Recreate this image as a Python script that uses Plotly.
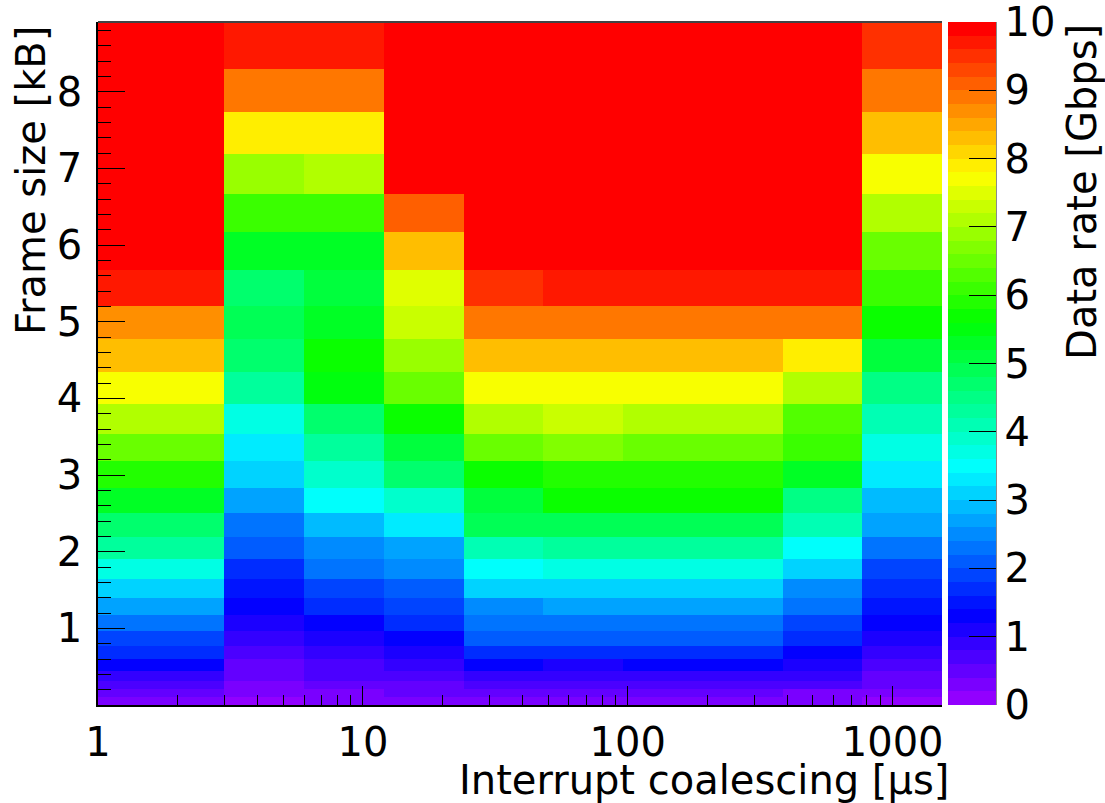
import math
import colorsys
import plotly.graph_objects as go

# ---------------- data ----------------
# bin edges of interrupt coalescing time [us] (log axis)
coalescing_edges_us = [1, 3, 6, 12, 24, 48, 96, 192, 384, 768, 1536]
# bin edges of frame size [kB], bottom -> top
frame_size_edges_kB = [0, 0.11, 0.21, 0.31, 0.45, 0.60, 0.77, 0.96, 1.17, 1.39,
                       1.64, 1.91, 2.19, 2.50, 2.83, 3.18, 3.54, 3.93, 4.34, 4.77,
                       5.21, 5.68, 6.17, 6.67, 7.19, 7.73, 8.30, 8.91]

# data rate [Gbps] per coalescing column, frame-size rows bottom -> top
rate_1_3us = [0.3, 0.5, 0.7, 0.9, 1.3, 1.7, 1.9, 2.3, 2.7, 3.1, 3.7, 4.3, 4.7, 5.3,
              5.9, 6.5, 7.1, 7.7, 8.3, 8.7, 9.7, 9.9, 9.9, 9.9, 9.9, 9.9, 9.9]
rate_3_6us = [0.1, 0.3, 0.3, 0.5, 0.5, 0.7, 0.9, 1.1, 1.3, 1.5, 1.7, 2.1, 2.3, 2.7,
              3.1, 3.3, 3.7, 4.3, 4.7, 4.9, 4.7, 5.3, 6.1, 6.9, 7.9, 8.9, 9.7]
rate_6_12us = [0.3, 0.3, 0.5, 0.7, 0.7, 0.9, 1.1, 1.3, 1.7, 1.9, 2.3, 2.5, 2.9, 3.5,
               3.9, 4.3, 4.7, 5.5, 5.7, 5.3, 5.1, 5.3, 6.1, 7.1, 7.9, 8.9, 9.7]
rate_12_24us = [0.3, 0.5, 0.5, 0.7, 0.9, 1.1, 1.3, 1.7, 1.9, 2.1, 2.5, 2.7, 3.3, 3.9,
                4.7, 5.1, 5.7, 6.5, 6.9, 7.3, 7.5, 8.3, 9.1, 9.9, 9.9, 9.9, 9.9]
rate_24_48us = [0.3, 0.5, 0.7, 0.9, 1.3, 1.7, 2.1, 2.3, 2.5, 3.1, 3.5, 4.1, 4.9, 5.1,
                5.7, 6.5, 7.1, 7.7, 8.3, 8.9, 9.5, 9.9, 9.9, 9.9, 9.9, 9.9, 9.9]
rate_48_96us = [0.3, 0.5, 0.7, 0.9, 1.1, 1.7, 2.1, 2.3, 2.7, 3.1, 3.7, 4.3, 4.9, 5.7,
                5.9, 6.7, 7.3, 7.7, 8.3, 8.9, 9.7, 9.9, 9.9, 9.9, 9.9, 9.9, 9.9]
rate_96_192us = [0.3, 0.5, 0.7, 0.9, 1.3, 1.7, 2.1, 2.3, 2.7, 3.1, 3.7, 4.3, 4.9, 5.7,
                 5.9, 6.5, 7.1, 7.7, 8.3, 8.9, 9.7, 9.9, 9.9, 9.9, 9.9, 9.9, 9.9]
rate_192_384us = [0.3, 0.5, 0.7, 0.9, 1.3, 1.7, 2.1, 2.3, 2.7, 3.1, 3.7, 4.3, 4.9, 5.7,
                  5.9, 6.5, 7.1, 7.7, 8.3, 8.9, 9.7, 9.9, 9.9, 9.9, 9.9, 9.9, 9.9]
rate_384_768us = [0.3, 0.3, 0.7, 0.9, 1.1, 1.3, 1.7, 1.9, 2.3, 2.5, 3.1, 3.5, 4.1, 4.5,
                  5.3, 6.1, 6.3, 7.1, 7.9, 8.9, 9.7, 9.9, 9.9, 9.9, 9.9, 9.9, 9.9]
rate_768_1536us = [0.1, 0.3, 0.5, 0.5, 0.7, 0.9, 1.1, 1.3, 1.5, 1.7, 1.9, 2.3, 2.7, 2.9,
                   3.3, 3.7, 4.1, 4.5, 5.1, 5.7, 6.1, 6.5, 7.1, 7.7, 8.3, 8.9, 9.5]

columns = [rate_1_3us, rate_3_6us, rate_6_12us, rate_12_24us, rate_24_48us,
           rate_48_96us, rate_96_192us, rate_192_384us, rate_384_768us, rate_768_1536us]
z = [[col[r] for col in columns] for r in range(len(frame_size_edges_kB) - 1)]

x_major = [1, 10, 100, 1000]
x_minor = [m * d for d in (1, 10, 100) for m in range(2, 10)]
y_major = [1, 2, 3, 4, 5, 6, 7, 8]
z_ticks = list(range(11))

# ---------------- ROOT "pretty" palette (violet -> red), 50 levels ----------------
n_levels = 50
palette = []
for i in range(n_levels):
    hue = 280.0 - (i + 1) * 280.0 / n_levels
    r, g, b = colorsys.hls_to_rgb(hue / 360.0, 0.5, 1.0)
    palette.append(f"rgb({round(r * 255)},{round(g * 255)},{round(b * 255)})")
colorscale = []
for i, c in enumerate(palette):
    colorscale.append([i / n_levels, c])
    colorscale.append([(i + 1) / n_levels, c])

FONT = "DejaVu Sans"
FS = 40

# plot area geometry (pixels)
L, R, T, B = 97.5, 163, 22, 98
W, H = 1105, 803
pw = W - L - R
ph = H - T - B


def px_to_paper_x(px):
    return (px - L) / pw


def px_to_paper_y(py):
    return (H - B - py) / ph


fig = go.Figure(go.Heatmap(
    x=coalescing_edges_us, y=frame_size_edges_kB, z=z,
    zmin=0, zmax=10, colorscale=colorscale,
    colorbar=dict(
        thickness=48, thicknessmode="pixels",
        len=1, lenmode="fraction",
        x=px_to_paper_x(948), xanchor="left", xpad=0,
        y=0.5, yanchor="middle", ypad=0,
        outlinewidth=0,
        tickvals=z_ticks, ticktext=[str(v) for v in z_ticks],
        ticks="inside", ticklen=27, tickwidth=1, tickcolor="black",
        ticklabeloverflow="allow",
        tickfont=dict(family=FONT, size=FS, color="black"),
    ),
    hoverongaps=False,
))

fig.update_layout(
    width=W, height=H,
    margin=dict(l=L, r=R, t=T, b=B),
    paper_bgcolor="white", plot_bgcolor="white",
    font=dict(family=FONT, size=FS, color="black"),
    xaxis=dict(
        type="log", range=[0, math.log10(coalescing_edges_us[-1])],
        tickvals=x_major, ticktext=[str(v) for v in x_major],
        ticks="inside", ticklen=19, tickwidth=1, tickcolor="black",
        showline=True, linecolor="black", linewidth=1.5,
        showgrid=False, zeroline=False,
        minor=dict(tickvals=x_minor, ticks="inside", ticklen=10, tickwidth=1,
                   tickcolor="black", showgrid=False),
        ticklabelstandoff=1,
        tickfont=dict(family=FONT, size=FS),
    ),
    yaxis=dict(
        range=[0, frame_size_edges_kB[-1]],
        tickvals=y_major,
        ticks="inside", ticklen=27, tickwidth=1, tickcolor="black",
        showline=True, linecolor="black", linewidth=1.5,
        showgrid=False, zeroline=False,
        minor=dict(dtick=0.2, ticks="inside", ticklen=13, tickwidth=1,
                   tickcolor="black", showgrid=False),
        ticklabelstandoff=6,
        tickfont=dict(family=FONT, size=FS),
    ),
    shapes=[
        dict(type="line", xref="paper", yref="paper", x0=0, x1=1, y0=1, y1=1,
             line=dict(color="#444444", width=2)),
        dict(type="line", xref="paper", yref="paper",
             x0=px_to_paper_x(996), x1=px_to_paper_x(996), y0=0, y1=1,
             line=dict(color="black", width=1)),
    ],
    annotations=[
        dict(text="Interrupt coalescing [µs]", xref="paper", yref="paper",
             x=px_to_paper_x(951), y=px_to_paper_y(780),
             xanchor="right", yanchor="middle", showarrow=False,
             font=dict(family=FONT, size=FS)),
        dict(text="Frame size [kB]", xref="paper", yref="paper", textangle=-90,
             x=px_to_paper_x(31), y=px_to_paper_y(24),
             xanchor="center", yanchor="top", showarrow=False,
             font=dict(family=FONT, size=FS)),
        dict(text="Data rate [Gbps]", xref="paper", yref="paper", textangle=-90,
             x=px_to_paper_x(1082), y=px_to_paper_y(22),
             xanchor="center", yanchor="top", showarrow=False,
             font=dict(family=FONT, size=FS)),
    ],
)

fig.write_html("out.html", config={"displayModeBar": False},
               post_script="document.body.style.margin='0';")
